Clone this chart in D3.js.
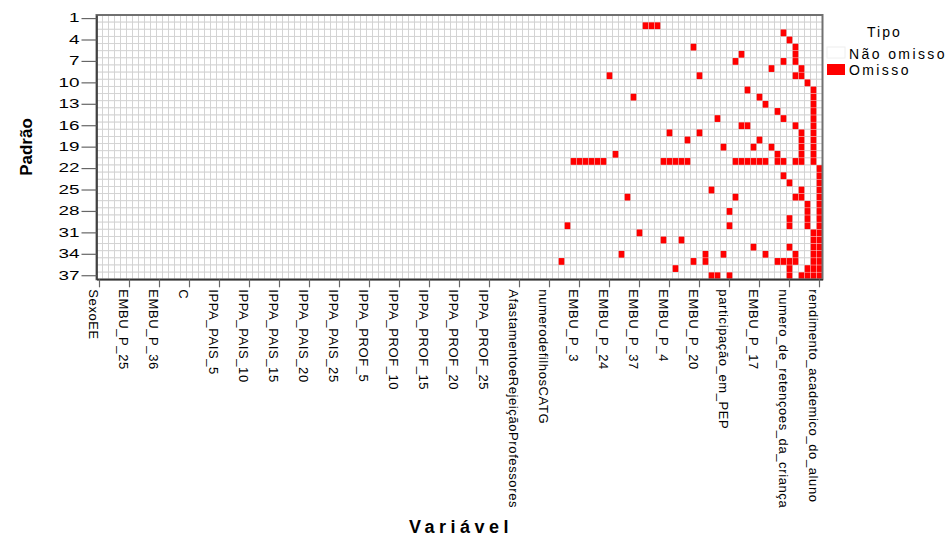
<!DOCTYPE html>
<html>
<head>
<meta charset="utf-8">
<script src="https://cdn.jsdelivr.net/npm/d3@7"></script>
<style>
	body{margin:0;background:#fff;}
	text{font-family:"Liberation Sans",Arial,sans-serif;fill:#000;}
</style>
</head>
<body>
<div id="grafico"></div>
<script>
// numero de variaveis (colunas) e padroes (linhas)
var nVariaveis = 121;
var nPadroes = 37;
var padroesTicks = [1,4,7,10,13,16,19,22,25,28,31,34,37];
var rotulosVariaveis = ["SexoEE","EMBU_P_25","EMBU_P_36","C","IPPA_PAIS_5","IPPA_PAIS_10","IPPA_PAIS_15",
	"IPPA_PAIS_20","IPPA_PAIS_25","IPPA_PROF_5","IPPA_PROF_10","IPPA_PROF_15","IPPA_PROF_20","IPPA_PROF_25",
	"AfastamentoeRejeiçãoProfessores","numerodefilhosCATG","EMBU_P_3","EMBU_P_24","EMBU_P_37","EMBU_P_4",
	"EMBU_P_20","participação_em_PEP","EMBU_P_17","numero_de_retençoes_da_criança","rendimento_academico_do_aluno"];
var tiposLegenda = ["Não omisso","Omisso"];
// colunas omissas em cada padrao (indice da variavel, 0 = SexoEE)
var omissos = [
	[],
	[91,92,93],
	[114],
	[115],
	[99,116],
	[107,116],
	[106,114,116],
	[112,117],
	[85,100,116,117],
	[118],
	[108,119],
	[89,110,119],
	[111,119],
	[113,119],
	[103,114,119],
	[107,108,116,119],
	[95,100,117,119],
	[98,110,117,119],
	[104,109,112,117,119],
	[86,113,117,119],
	[79,80,81,82,83,84,94,95,96,97,98,106,107,108,109,110,111,113,114,116,117,119],
	[120],
	[114,120],
	[115,120],
	[102,117,120],
	[88,106,116,117,120],
	[118,120],
	[105,118,120],
	[115,118,120],
	[78,105,115,118,120],
	[90,119,120],
	[94,97,119,120],
	[109,115,119,120],
	[87,101,104,111,116,119,120],
	[77,99,101,113,114,115,116,119,120],
	[96,115,118,119,120],
	[102,103,105,115,117,118,119,120]
];

var svg = d3.select("#grafico").append("svg").attr("width",950).attr("height",539);

var x = d3.scaleBand().domain(d3.range(nVariaveis)).range([96.5,822.5]);
var y = d3.scaleBand().domain(d3.range(1,nPadroes+1)).range([15,279.3]);
var cor = d3.scaleOrdinal().domain(tiposLegenda).range(["#ffffff","#ff0000"]);

var celulas = [];
for(var p=1;p<=nPadroes;p++){
	for(var v=0;v<nVariaveis;v++){
		celulas.push({padrao:p, variavel:v, tipo: omissos[p-1].indexOf(v)>=0 ? "Omisso" : "Não omisso"});
	}
}

svg.append("g").selectAll("rect")
	.data(celulas.filter(function(d){return d.tipo=="Não omisso";}))
	.enter().append("rect")
	.attr("x",function(d){return x(d.variavel);})
	.attr("y",function(d){return y(d.padrao);})
	.attr("width",x.bandwidth())
	.attr("height",y.bandwidth())
	.attr("fill",function(d){return cor(d.tipo);})
	.attr("stroke","#d2d2d2")
	.attr("stroke-width",0.9);

svg.append("g").selectAll("rect")
	.data(celulas.filter(function(d){return d.tipo=="Omisso";}))
	.enter().append("rect")
	.attr("x",function(d){return x(d.variavel)+0.2;})
	.attr("y",function(d){return y(d.padrao)+0.2;})
	.attr("width",x.bandwidth()-0.4)
	.attr("height",y.bandwidth()-0.4)
	.attr("fill",function(d){return cor(d.tipo);});

// moldura
svg.append("rect")
	.attr("x",96.5).attr("y",15)
	.attr("width",822.5-96.5).attr("height",279.3-15)
	.attr("fill","none").attr("stroke","#707070").attr("stroke-width",2);

// eixo Y
var eixoY = svg.append("g").attr("transform","translate(96.5,0)")
	.call(d3.axisLeft(y).tickValues(padroesTicks).tickSizeInner(15).tickSizeOuter(0).tickPadding(4));
eixoY.select(".domain").attr("stroke","#333").attr("stroke-width",1.5);
eixoY.selectAll(".tick line").attr("stroke","#666").attr("stroke-width",1.2);
eixoY.selectAll(".tick text")
	.attr("x",-17)
	.style("font-size","12px")
	.attr("textLength",function(d){return String(d).length*10.5;})
	.attr("lengthAdjust","spacingAndGlyphs");

// eixo X
var eixoX = svg.append("g").attr("transform","translate(0,279.3)")
	.call(d3.axisBottom(x)
		.tickValues(rotulosVariaveis.map(function(d,i){return i*5;}))
		.tickFormat(function(d){return rotulosVariaveis[d/5];})
		.tickSizeInner(8).tickSizeOuter(0));
eixoX.select(".domain").attr("stroke","#333").attr("stroke-width",1.5);
eixoX.selectAll(".tick line").attr("stroke","#666").attr("stroke-width",1.2);
eixoX.selectAll(".tick text")
	.attr("transform","rotate(90)")
	.attr("x",10)
	.attr("y",10.5)
	.attr("dy",0)
	.style("text-anchor","start")
	.style("font-size","13px")
	.style("letter-spacing","0.6px");

// titulos
svg.append("text")
	.attr("transform","translate(32,147) rotate(-90)")
	.attr("text-anchor","middle")
	.style("font-size","17px").style("font-weight","bold")
	.text("Padrão");
svg.append("text")
	.attr("x",461).attr("y",533)
	.attr("text-anchor","middle")
	.style("font-size","18px").style("font-weight","bold").style("letter-spacing","4.5px")
	.text("Variável");

// legenda
var legenda = svg.append("g");
legenda.append("text").attr("x",867).attr("y",37)
	.style("font-size","14px").style("letter-spacing","2px").text("Tipo");
legenda.selectAll("rect").data(tiposLegenda).enter().append("rect")
	.attr("x",827).attr("y",function(d,i){return 47+i*17;})
	.attr("width",18).attr("height",11)
	.attr("fill",function(d){return cor(d);})
	.attr("stroke",function(d){return d=="Omisso" ? "none" : "#eeeeee";});
legenda.selectAll("text.item").data(tiposLegenda).enter().append("text")
	.attr("class","item")
	.attr("x",849).attr("y",function(d,i){return 58.5+i*16.5;})
	.style("font-size","14px").style("letter-spacing","2.4px")
	.text(function(d){return d;});
</script>
</body>
</html>
